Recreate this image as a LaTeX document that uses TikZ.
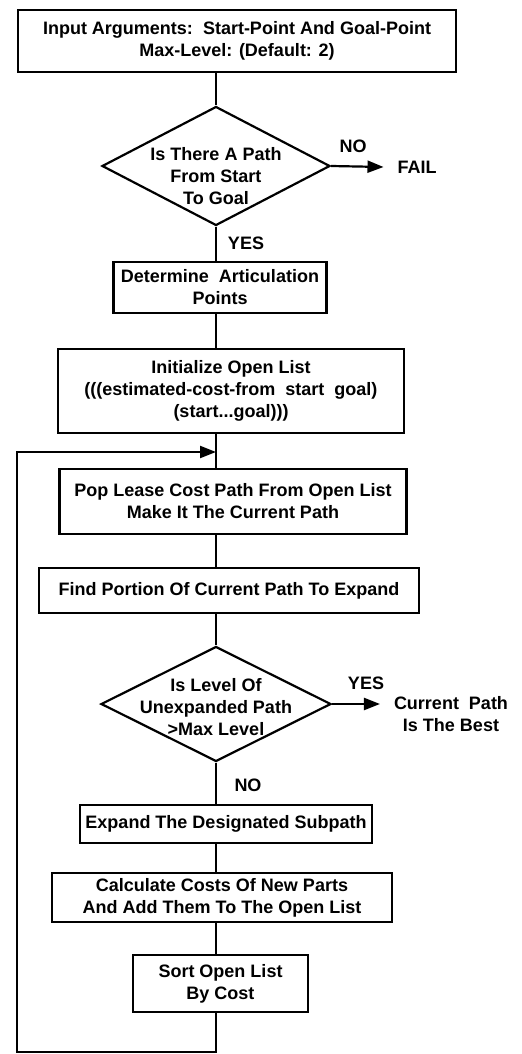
\documentclass[tikz,border=0pt]{standalone}
\usepackage{fontspec}
\setmainfont{Liberation Sans}
\usepackage{tikz}
\usetikzlibrary{positioning, shapes.geometric, arrows.meta}

\begin{document}
\begin{tikzpicture}[x=0.5pt, y=-0.5pt,
    every node/.style={font=\fontsize{9}{11}\selectfont\bfseries, align=center, inner sep=2pt},
    box/.style={draw, line width=1.1pt, inner sep=0pt},
    decision/.style={draw, diamond, line width=1.1pt, inner sep=0pt},
    outcome/.style={inner sep=0pt, outer sep=7pt},
    line/.style={line width=1.1pt},
    arrow/.style={line, -{Triangle[length=8pt, width=6pt]}},
  ]
  \useasboundingbox (0,0) rectangle (521,1054);

  \node[box, minimum width=219pt, minimum height=31pt] (input) at (237,41)
    {Input Arguments:~~Start-Point And Goal-Point\\Max-Level: (Default: 2)};
  \node[decision, minimum width=114pt, minimum height=59.5pt,
        label={[yshift=-5pt]center:Is There A Path\\From Start\\To Goal}] (ispath) at (216,166) {};
  \node[outcome] (fail) at (417,167) {FAIL};
  \node (no1) at (353,146) {NO};
  \node (yes1) at (246,243) {YES};
  \node[box, minimum width=106.5pt, minimum height=25.5pt] (artic) at (220,287.5)
    {Determine~~Articulation\\Points};
  \node[box, minimum width=173pt, minimum height=42pt] (init) at (231,391)
    {Initialize Open List\\(((estimated-cost-from~~start~~goal)\\(start...goal)))};
  \coordinate (merge) at (216,452);
  \node[box, minimum width=173.5pt, minimum height=32.5pt] (pop) at (233,501.5)
    {Pop Lease Cost Path From Open List\\Make It The Current Path};
  \node[box, minimum width=190pt, minimum height=22.5pt] (find) at (229,590.5)
    {Find Portion Of Current Path To Expand};
  \node[decision, minimum width=115pt, minimum height=57.5pt,
        label={[yshift=-1.5pt]center:Is Level Of\\Unexpanded Path\\>Max Level}] (level) at (216,704) {};
  \node (yes2) at (366,683) {YES};
  \node[outcome] (best) at (451,714) {Current~~Path\\Is The Best};
  \node (no2) at (248,785) {NO};
  \node[box, minimum width=146pt, minimum height=19pt] (expand) at (226,824)
    {Expand The Designated Subpath};
  \node[box, minimum width=170pt, minimum height=24.5pt] (calc) at (222,897.5)
    {Calculate Costs Of New Parts\\And Add Them To The Open List};
  \node[box, minimum width=87.5pt, minimum height=28.5pt] (sort) at (220.5,983.5)
    {Sort Open List\\By Cost};
  \coordinate (corner) at (17,1052);

  \draw[line] (ispath.north |- input.south) -- (ispath.north);
  \draw[arrow] (ispath.east) -- (fail.west);
  \draw[line] (ispath.south) -- (ispath.south |- artic.north);
  \draw[line] (merge |- artic.south) -- (merge |- init.north);
  \draw[line] (merge |- init.south) -- (merge |- pop.north);
  \draw[line] (merge |- pop.south) -- (merge |- find.north);
  \draw[line] (merge |- find.south) -- (level.north);
  \draw[arrow] (level.east) -- (level.east -| best.west);
  \draw[line] (level.south) -- (merge |- expand.north);
  \draw[line] (merge |- expand.south) -- (merge |- calc.north);
  \draw[line] (merge |- calc.south) -- (merge |- sort.north);
  \draw[arrow] (merge |- sort.south) |- (corner) |- (merge);
\end{tikzpicture}
\end{document}
